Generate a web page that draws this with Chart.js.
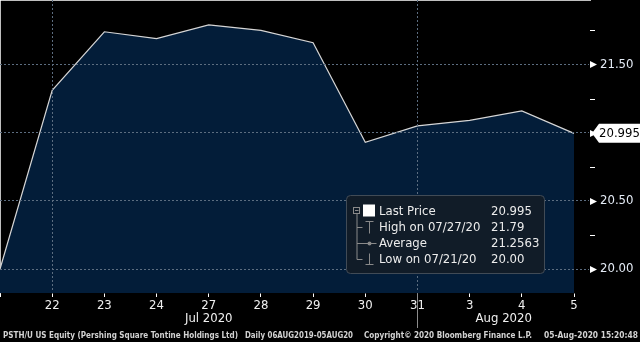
<!DOCTYPE html>
<html>
<head>
<meta charset="utf-8">
<script src="https://cdn.jsdelivr.net/npm/chart.js@4/dist/chart.umd.min.js"></script>
<style>
html,body{margin:0;padding:0;background:#000;}
canvas{display:block;}
</style>
</head>
<body>
<canvas id="c" width="640" height="342"></canvas>
<script>
// trading days shown on the axis (Jul 21 .. Aug 5, 2020)
const days=['21','22','23','24','27','28','29','30','31','3','4','5'];
const prices=[20.00,21.31,21.74,21.69,21.79,21.75,21.66,20.93,21.05,21.09,21.16,20.995];
const yTicks=[20.00,20.50,21.00,21.50];
const yMinor=[20.25,20.75,21.25,21.75];
const months=['Jul 2020','Aug 2020'];
const monthBreak=8; // index of "31", where the month separator sits

const legendNames=['Last Price','High on 07/27/20','Average','Low on 07/21/20'];
const legendValues=['20.995','21.79','21.2563','20.00'];

const footer=['PSTH/U US Equity (Pershing Square Tontine Holdings Ltd)','Daily 06AUG2019-05AUG20','Copyright\u00a9 2020 Bloomberg Finance L.P.','05-Aug-2020 15:20:48'];

const fam='"DejaVu Sans Condensed","DejaVu Sans",sans-serif';
const gridCol='#5c6d80';

function fitText(ctx,txt,x,y,w){
  let m=ctx.measureText(txt).width;
  ctx.save();
  ctx.translate(x,y);
  ctx.scale(w/m,1);
  ctx.fillText(txt,0,0);
  ctx.restore();
}

const bbg={
  id:'bbg',
  afterDraw(chart){
    const ctx=chart.ctx, a=chart.chartArea, x=chart.scales.x, y=chart.scales.y;
    ctx.save();

    // y axis tick marks: arrows for majors, short lines for minors
    ctx.fillStyle='#fff';
    yTicks.forEach(v=>{
      let py=Math.round(y.getPixelForValue(v))+0.5;
      ctx.beginPath();
      ctx.moveTo(a.right,py-3.5);
      ctx.lineTo(a.right+7,py);
      ctx.lineTo(a.right,py+3.5);
      ctx.closePath();
      ctx.fill();
    });
    ctx.strokeStyle='#fff';
    ctx.lineWidth=1;
    yMinor.forEach(v=>{
      let py=Math.round(y.getPixelForValue(v))+0.5;
      ctx.beginPath();
      ctx.moveTo(a.right,py);
      ctx.lineTo(a.right+5,py);
      ctx.stroke();
    });

    // last price tag
    let last=prices[prices.length-1];
    let ty=y.getPixelForValue(last);
    ctx.fillStyle='#fff';
    ctx.beginPath();
    ctx.moveTo(a.right+2,ty);
    ctx.lineTo(a.right+9,ty-9.5);
    ctx.lineTo(640,ty-9.5);
    ctx.lineTo(640,ty+9.5);
    ctx.lineTo(a.right+9,ty+9.5);
    ctx.closePath();
    ctx.fill();
    ctx.fillStyle='#000';
    ctx.font='13px '+fam;
    ctx.textBaseline='middle';
    ctx.textAlign='left';
    ctx.fillText(last.toFixed(3),a.right+9,ty+0.5);

    // month separator and labels
    let sx=Math.round(x.getPixelForValue(monthBreak))+0.5;
    ctx.strokeStyle='#8c8c8c';
    ctx.beginPath();
    ctx.moveTo(sx,a.bottom+1);
    ctx.lineTo(sx,328);
    ctx.stroke();
    ctx.fillStyle='#f0f0f0';
    ctx.textAlign='center';
    ctx.fillText(months[0],(a.left+sx)/2,319);
    ctx.fillText(months[1],(sx+a.right)/2,319);

    // legend box
    let bl=a.right-244, bt=a.bottom-98, bw=198, bh=78;
    ctx.fillStyle='#111c28';
    ctx.strokeStyle='#414b56';
    ctx.beginPath();
    ctx.roundRect(bl+0.5,bt+0.5,bw,bh,4);
    ctx.fill();
    ctx.stroke();

    let rowY=[bt+16,bt+32.5,bt+48.5,bt+64.5];
    let tx=bl+7.5, ix=bl+23.5;
    ctx.strokeStyle='#8a8a8a';
    ctx.lineWidth=1;
    // tree line
    ctx.beginPath();
    ctx.moveTo(tx+3.5,rowY[0]+3);
    ctx.lineTo(tx+3.5,rowY[3]);
    ctx.lineTo(tx+9,rowY[3]);
    ctx.moveTo(tx+3.5,rowY[1]);
    ctx.lineTo(tx+9,rowY[1]);
    ctx.stroke();
    // collapse box
    ctx.strokeRect(tx,rowY[0]-3.5,6,6);
    ctx.beginPath();
    ctx.moveTo(tx+1.5,rowY[0]-0.5);
    ctx.lineTo(tx+5,rowY[0]-0.5);
    ctx.stroke();
    // white square
    ctx.fillStyle='#fff';
    ctx.fillRect(bl+17,rowY[0]-6.5,12,12);
    // high marker
    ctx.beginPath();
    ctx.moveTo(ix-4,rowY[1]-6);
    ctx.lineTo(ix+4,rowY[1]-6);
    ctx.moveTo(ix,rowY[1]-6);
    ctx.lineTo(ix,rowY[1]+6);
    ctx.stroke();
    // average marker
    ctx.beginPath();
    ctx.moveTo(tx+3.5,rowY[2]);
    ctx.lineTo(ix+7,rowY[2]);
    ctx.stroke();
    ctx.fillStyle='#8a8a8a';
    ctx.beginPath();
    ctx.arc(ix,rowY[2],2,0,Math.PI*2);
    ctx.fill();
    // low marker
    ctx.beginPath();
    ctx.moveTo(ix,rowY[3]-6);
    ctx.lineTo(ix,rowY[3]+5);
    ctx.moveTo(ix-4,rowY[3]+5);
    ctx.lineTo(ix+4,rowY[3]+5);
    ctx.stroke();

    ctx.fillStyle='#ececec';
    ctx.font='13px '+fam;
    ctx.textAlign='left';
    ctx.textBaseline='middle';
    legendNames.forEach((n,i)=>{
      ctx.fillText(n,bl+33,rowY[i]+0.5);
      ctx.fillText(legendValues[i],bl+145,rowY[i]+0.5);
    });

    // footer
    ctx.fillStyle='#d2d2d2';
    ctx.font='bold 9px '+fam;
    ctx.textAlign='left';
    ctx.textBaseline='alphabetic';
    fitText(ctx,footer[0],3,338,235);
    fitText(ctx,footer[1],245,338,108);
    fitText(ctx,footer[2],364,338,168);
    fitText(ctx,footer[3],544,338,94);

    ctx.restore();
  }
};

new Chart(document.getElementById('c'),{
  type:'line',
  data:{
    datasets:[{
      data:prices.map((p,i)=>({x:i,y:p})),
      borderColor:'#d6d6d6',
      borderWidth:1.2,
      backgroundColor:'#031d39',
      fill:'start',
      pointRadius:0,
      tension:0
    }]
  },
  options:{
    responsive:false,
    animation:false,
    devicePixelRatio:1,
    layout:{padding:0},
    plugins:{legend:{display:false},tooltip:{enabled:false}},
    scales:{
      x:{
        type:'linear',
        min:0,
        max:11*590/574,
        afterBuildTicks:s=>{s.ticks=days.map((d,i)=>({value:i}));},
        afterFit:s=>{s.height=49;s.paddingLeft=0;s.paddingRight=0;},
        ticks:{
          autoSkip:false,
          maxRotation:0,
          padding:1,
          color:'#f0f0f0',
          font:{family:fam,size:13},
          callback:(v,i)=>i===0?'':days[v]
        },
        grid:{
          z:1,
          color:c=>(c.index===1||c.index===monthBreak)?gridCol:'rgba(0,0,0,0)',
          tickColor:'#fff',
          tickLength:4,
          lineWidth:1
        },
        border:{display:true,color:'#fff',width:1.5,dash:[2,2]}
      },
      y:{
        position:'right',
        min:19.824,
        max:21.973,
        afterBuildTicks:s=>{s.ticks=yTicks.map(v=>({value:v}));},
        afterFit:s=>{s.width=50;s.paddingTop=0;s.paddingBottom=0;},
        ticks:{
          padding:10,
          color:'#e4ebf5',
          font:{family:fam,size:13},
          callback:v=>v===21?'':v.toFixed(2)
        },
        grid:{
          z:1,
          color:gridCol,
          drawTicks:false,
          lineWidth:1
        },
        border:{display:true,color:'#fff',width:1.5,dash:[2,2]}
      }
    }
  },
  plugins:[bbg]
});
</script>
</body>
</html>
